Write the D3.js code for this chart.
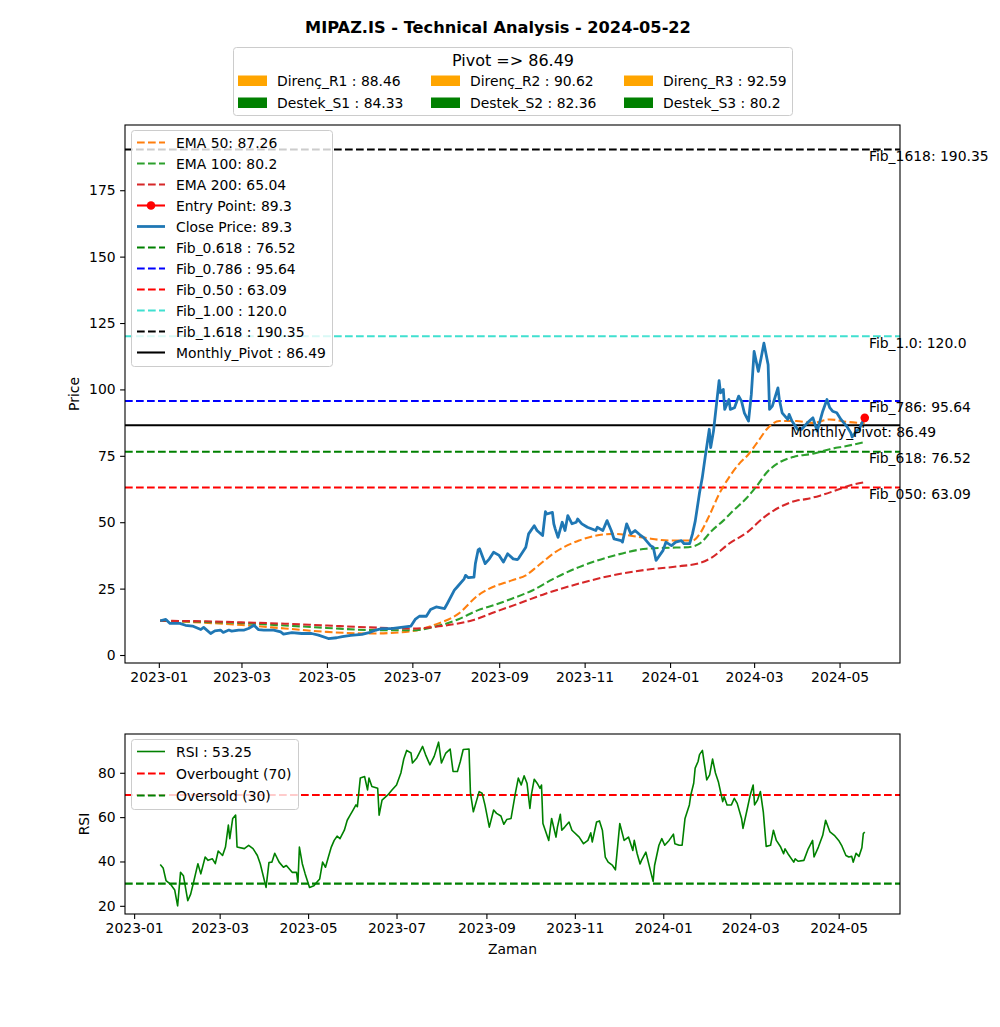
<!DOCTYPE html>
<html><head><meta charset="utf-8">
<script src="https://cdn.jsdelivr.net/npm/d3@7"></script>
<style>body{margin:0;background:#fff} text{font-family:"DejaVu Sans",sans-serif;fill:#000}</style>
</head><body><svg id="c" width="1000" height="1027"></svg>
<script>
// ---------------- DATA ----------------
const chartTitle = "MIPAZ.IS - Technical Analysis - 2024-05-22";
const pivotTitle = "Pivot => 86.49";
const pivotNames = ["Direnç_R1", "Direnç_R2", "Direnç_R3", "Destek_S1", "Destek_S2", "Destek_S3"];
const pivotValues = [88.46, 90.62, 92.59, 84.33, 82.36, 80.2];
const pivotColors = ["orange", "orange", "orange", "green", "green", "green"];

const closePrice = [
["2023-01-02",12.9],["2023-01-06",13.4],["2023-01-09",11.9],["2023-01-16",11.9],["2023-01-20",11.2],["2023-01-25",10.9],["2023-01-31",9.6],
["2023-02-02",10.4],["2023-02-07",8.1],["2023-02-10",9.1],["2023-02-14",9.4],["2023-02-16",8.5],["2023-02-20",9.4],["2023-02-22",9.0],["2023-02-27",9.4],
["2023-03-03",9.4],["2023-03-06",10.0],["2023-03-10",11.2],["2023-03-13",9.6],["2023-03-17",9.4],["2023-03-24",9.4],["2023-03-29",8.7],["2023-03-31",7.9],
["2023-04-06",8.4],["2023-04-13",8.1],["2023-04-20",8.1],["2023-04-25",7.5],["2023-05-02",6.2],["2023-05-08",6.5],["2023-05-12",6.9],["2023-05-18",7.4],
["2023-05-26",7.8],["2023-05-31",8.4],["2023-06-05",9.4],["2023-06-09",9.9],["2023-06-16",9.9],["2023-06-23",10.4],["2023-06-30",10.9],
["2023-07-03",13.4],["2023-07-06",14.6],["2023-07-11",14.6],["2023-07-14",17.1],["2023-07-18",18.1],["2023-07-24",17.5],["2023-07-26",19.4],["2023-07-31",24.4],
["2023-08-02",25.6],["2023-08-07",28.7],["2023-08-08",30.0],["2023-08-10",29.1],["2023-08-14",29.3],["2023-08-15",34.4],["2023-08-17",39.6],["2023-08-18",40.0],
["2023-08-22",34.4],["2023-08-25",36.2],["2023-08-28",38.7],["2023-09-01",37.5],["2023-09-04",35.0],["2023-09-07",38.1],["2023-09-11",36.2],["2023-09-14",35.9],
["2023-09-15",36.5],["2023-09-20",40.6],["2023-09-22",45.6],["2023-09-26",48.7],["2023-09-28",46.9],["2023-10-02",45.0],["2023-10-04",54.0],["2023-10-05",53.1],
["2023-10-09",53.7],["2023-10-10",49.4],["2023-10-11",47.5],["2023-10-13",44.3],["2023-10-16",50.0],["2023-10-18",46.9],["2023-10-20",52.5],["2023-10-23",49.4],
["2023-10-26",50.0],["2023-10-27",51.2],["2023-10-30",49.4],["2023-11-03",48.1],["2023-11-09",46.9],["2023-11-10",48.1],["2023-11-14",46.9],["2023-11-17",50.6],
["2023-11-20",46.9],["2023-11-22",43.7],["2023-11-27",43.1],["2023-11-28",42.5],["2023-12-01",49.4],["2023-12-04",45.6],["2023-12-07",46.9],["2023-12-11",45.0],
["2023-12-13",44.3],["2023-12-18",41.2],["2023-12-20",40.6],["2023-12-22",35.6],["2023-12-27",39.4],["2023-12-29",42.5],["2024-01-02",41.2],["2024-01-05",42.5],
["2024-01-09",43.1],["2024-01-11",41.9],["2024-01-15",41.9],["2024-01-17",45.6],["2024-01-19",50.5],["2024-01-22",61.0],["2024-01-24",66.8],["2024-01-26",74.3],
["2024-01-29",85.0],["2024-01-30",78.1],["2024-02-01",84.3],["2024-02-05",103.3],["2024-02-06",98.7],["2024-02-08",100.0],["2024-02-09",92.5],["2024-02-12",96.2],
["2024-02-13",92.5],["2024-02-16",93.1],["2024-02-19",97.5],["2024-02-21",95.6],["2024-02-23",91.2],["2024-02-26",88.1],["2024-02-28",98.1],["2024-03-01",114.3],
["2024-03-04",106.8],["2024-03-06",111.8],["2024-03-08",117.4],["2024-03-11",109.3],["2024-03-12",92.5],["2024-03-14",93.7],["2024-03-18",100.6],["2024-03-19",96.2],
["2024-03-21",91.2],["2024-03-25",88.7],["2024-03-26",90.6],["2024-03-28",88.1],["2024-04-01",85.0],["2024-04-04",85.0],["2024-04-08",87.4],["2024-04-12",89.3],
["2024-04-15",84.3],["2024-04-17",88.1],["2024-04-19",91.8],["2024-04-22",96.2],["2024-04-24",93.1],["2024-04-26",91.8],["2024-04-29",91.2],["2024-05-02",88.7],
["2024-05-06",86.2],["2024-05-09",83.7],["2024-05-10",82.1],["2024-05-13",84.3],["2024-05-15",85.0],["2024-05-17",87.4],["2024-05-19",89.3]
];

const ema50 = [
["2023-01-02",12.9],["2023-02-01",12.2],["2023-03-01",11.3],["2023-04-01",10.0],["2023-05-01",8.7],["2023-06-01",8.1],["2023-07-01",9.0],
["2023-07-16",11.2],["2023-08-03",15.6],["2023-08-17",22.5],["2023-08-25",25.0],["2023-09-10",28.1],["2023-09-20",30.0],["2023-09-29",33.7],
["2023-10-11",38.7],["2023-10-28",43.1],["2023-11-21",45.6],["2023-12-12",44.3],["2023-12-31",43.1],["2024-01-17",43.1],["2024-01-22",45.5],
["2024-01-29",52.5],["2024-02-05",60.6],["2024-02-12",66.8],["2024-02-19",71.8],["2024-02-26",75.6],["2024-03-04",80.6],["2024-03-11",85.6],
["2024-03-19",88.1],["2024-03-31",88.1],["2024-04-12",87.4],["2024-04-24",88.7],["2024-05-06",87.8],["2024-05-19",87.26]
];
const ema100 = [
["2023-01-02",12.9],["2023-02-01",12.5],["2023-03-01",12.0],["2023-04-01",11.1],["2023-05-01",10.2],["2023-06-01",9.4],["2023-07-01",9.3],
["2023-07-16",10.5],["2023-08-03",13.5],["2023-08-17",16.9],["2023-08-29",18.9],["2023-09-10",21.2],["2023-09-25",24.4],["2023-10-09",28.5],
["2023-10-28",33.1],["2023-11-21",37.3],["2023-12-15",40.0],["2023-12-31",40.4],["2024-01-14",40.6],["2024-01-22",41.9],["2024-01-31",46.9],
["2024-02-08",50.6],["2024-02-15",54.3],["2024-02-25",59.3],["2024-03-03",63.7],["2024-03-10",68.7],["2024-03-19",72.5],["2024-03-29",74.6],
["2024-04-12",75.8],["2024-04-24",77.5],["2024-05-06",78.7],["2024-05-19",80.2]
];
const ema200 = [
["2023-01-02",12.9],["2023-02-01",12.7],["2023-03-01",12.3],["2023-04-01",11.8],["2023-05-01",11.1],["2023-06-01",10.4],["2023-07-01",10.0],
["2023-07-20",10.8],["2023-08-13",13.1],["2023-08-29",16.2],["2023-09-15",19.4],["2023-10-04",23.1],["2023-10-28",26.9],["2023-11-21",30.0],
["2023-12-15",32.1],["2024-01-07",33.4],["2024-01-22",34.6],["2024-01-31",36.8],["2024-02-12",41.9],["2024-02-25",46.2],["2024-03-08",51.8],
["2024-03-19",55.6],["2024-03-31",58.1],["2024-04-07",58.7],["2024-04-17",60.0],["2024-04-29",62.1],["2024-05-10",64.1],["2024-05-19",65.04]
];

const entryPoint = ["2024-05-19", 89.3];

const fibNames = ["Fib_0.618", "Fib_0.786", "Fib_0.50", "Fib_1.00", "Fib_1.618"];
const fibShortNames = ["Fib_618", "Fib_786", "Fib_050", "Fib_1.0", "Fib_1618"];
const fibValues = [76.52, 95.64, 63.09, 120.0, 190.35];
const fibValueText = ["76.52", "95.64", "63.09", "120.0", "190.35"];
const fibColors = ["green", "blue", "red", "turquoise", "black"];
const monthlyPivot = 86.49;
const fibLabelDate = "2024-05-22";
const pivotLabelDate = "2024-03-27";

const rsi = [
["2023-01-19",38.6],["2023-01-21",37.1],["2023-01-23",31.4],["2023-01-26",29.8],["2023-01-29",27.1],["2023-01-31",20.0],["2023-02-02",35.1],["2023-02-04",33.6],
["2023-02-07",22.3],["2023-02-09",25.3],["2023-02-11",30.6],["2023-02-14",39.0],["2023-02-16",34.4],["2023-02-19",42.0],["2023-02-21",40.5],["2023-02-24",41.2],
["2023-02-26",39.0],["2023-02-28",44.7],["2023-03-03",42.7],["2023-03-05",46.5],["2023-03-07",56.4],["2023-03-08",50.3],["2023-03-10",59.4],["2023-03-12",60.9],
["2023-03-13",46.5],["2023-03-18",45.8],["2023-03-21",47.3],["2023-03-24",45.8],["2023-03-27",42.7],["2023-03-29",39.0],["2023-04-02",28.3],["2023-04-04",39.5],
["2023-04-06",39.7],["2023-04-08",43.7],["2023-04-11",39.7],["2023-04-14",37.4],["2023-04-16",38.2],["2023-04-20",35.1],["2023-04-23",35.1],["2023-04-24",30.6],
["2023-04-25",46.5],["2023-04-27",39.0],["2023-04-29",34.4],["2023-05-02",28.3],["2023-05-05",29.1],["2023-05-07",30.6],["2023-05-09",32.1],["2023-05-11",39.7],
["2023-05-13",37.4],["2023-05-15",42.0],["2023-05-17",46.5],["2023-05-19",49.5],["2023-05-21",51.4],["2023-05-23",50.3],["2023-05-26",54.1],["2023-05-28",58.6],
["2023-05-30",60.9],["2023-06-01",63.2],["2023-06-03",65.5],["2023-06-04",64.7],["2023-06-06",77.6],["2023-06-09",78.3],["2023-06-11",72.3],["2023-06-12",77.6],
["2023-06-14",73.8],["2023-06-18",73.0],["2023-06-19",60.9],["2023-06-21",67.7],["2023-06-25",70.0],["2023-06-28",72.3],["2023-07-01",74.5],["2023-07-04",79.9],
["2023-07-06",86.2],["2023-07-08",90.1],["2023-07-11",88.9],["2023-07-12",84.4],["2023-07-15",86.7],["2023-07-19",91.9],["2023-07-21",88.2],["2023-07-24",83.6],
["2023-07-27",87.4],["2023-07-30",93.8],["2023-08-01",84.4],["2023-08-04",88.9],["2023-08-07",90.7],["2023-08-09",80.6],["2023-08-12",80.6],["2023-08-14",85.1],
["2023-08-16",90.5],["2023-08-20",90.7],["2023-08-21",70.8],["2023-08-23",62.4],["2023-08-27",71.5],["2023-08-29",70.8],["2023-08-31",65.5],["2023-09-03",55.5],
["2023-09-06",63.2],["2023-09-08",61.7],["2023-09-11",60.5],["2023-09-13",56.8],["2023-09-15",58.9],["2023-09-18",59.4],["2023-09-21",70.8],["2023-09-23",77.6],
["2023-09-25",74.5],["2023-09-27",78.6],["2023-09-29",75.3],["2023-10-01",63.9],["2023-10-02",70.0],["2023-10-04",77.1],["2023-10-06",75.3],["2023-10-08",73.0],
["2023-10-09",74.5],["2023-10-10",57.1],["2023-10-14",49.5],["2023-10-16",59.4],["2023-10-19",51.0],["2023-10-20",55.5],["2023-10-22",61.3],["2023-10-23",54.1],
["2023-10-25",55.5],["2023-10-28",57.8],["2023-10-30",54.1],["2023-11-04",51.0],["2023-11-07",48.0],["2023-11-10",49.5],["2023-11-12",52.9],["2023-11-13",48.8],
["2023-11-16",57.8],["2023-11-18",58.3],["2023-11-20",54.1],["2023-11-22",42.0],["2023-11-24",39.7],["2023-11-27",38.2],["2023-11-29",36.2],["2023-12-02",57.1],
["2023-12-05",49.5],["2023-12-08",51.0],["2023-12-11",45.0],["2023-12-12",49.5],["2023-12-14",43.5],["2023-12-16",38.9],["2023-12-17",40.5],["2023-12-20",44.2],
["2023-12-22",38.9],["2023-12-25",31.0],["2023-12-26",38.2],["2023-12-29",47.3],["2023-12-31",50.3],["2024-01-02",47.3],["2024-01-05",49.5],["2024-01-08",52.3],
["2024-01-09",48.0],["2024-01-12",47.3],["2024-01-14",47.3],["2024-01-16",59.4],["2024-01-19",65.5],["2024-01-20",70.0],["2024-01-22",75.3],["2024-01-23",82.1],
["2024-01-25",85.1],["2024-01-26",88.2],["2024-01-28",90.1],["2024-01-31",76.8],["2024-02-02",79.1],["2024-02-04",86.2],["2024-02-06",79.9],["2024-02-08",76.0],
["2024-02-11",67.0],["2024-02-12",69.2],["2024-02-14",65.5],["2024-02-17",65.5],["2024-02-19",68.5],["2024-02-21",66.2],["2024-02-24",59.4],["2024-02-25",54.9],
["2024-02-28",63.9],["2024-03-01",70.0],["2024-03-03",74.5],["2024-03-04",65.5],["2024-03-06",67.7],["2024-03-08",71.5],["2024-03-10",62.4],["2024-03-12",46.8],
["2024-03-15",47.3],["2024-03-17",54.1],["2024-03-19",49.5],["2024-03-22",46.5],["2024-03-24",43.5],["2024-03-25",45.7],["2024-03-27",43.5],["2024-03-31",39.7],
["2024-04-01",41.2],["2024-04-03",40.1],["2024-04-07",40.5],["2024-04-10",45.7],["2024-04-13",49.5],["2024-04-14",42.0],["2024-04-17",46.5],["2024-04-20",51.8],
["2024-04-22",58.6],["2024-04-25",53.3],["2024-04-28",51.8],["2024-05-01",49.5],["2024-05-03",47.3],["2024-05-06",42.7],["2024-05-08",42.0],["2024-05-10",42.3],
["2024-05-11",39.7],["2024-05-13",43.7],["2024-05-15",42.3],["2024-05-17",46.2],["2024-05-18",52.6],["2024-05-19",53.25]
];
const rsiLast = "53.25";
const overbought = 70, oversold = 30;
const priceTicks = [0, 25, 50, 75, 100, 125, 150, 175];
const rsiTicks = [20, 40, 60, 80];

// ---------------- DRAW ----------------
const svg = d3.select("#c");
svg.append("rect").attr("width", 1000).attr("height", 1027).attr("fill", "#fff");
const parse = d3.utcParse("%Y-%m-%d");
const FS = 13.9;
const DASH = "7.7,3.3";
const mainBox = {l:125, r:900, t:125, b:663};
const rsiBox = {l:125, r:900, t:734, b:914};

function pad(ext, f) { const d = (ext[1]-ext[0])*f; return [ext[0]-d, ext[1]+d]; }
function padDates(ext) { const d = (ext[1]-ext[0])*0.05; return [new Date(+ext[0]-d), new Date(+ext[1]+d)]; }

const closeD = closePrice.map(d => ({date: parse(d[0]), v: d[1]}));
const toD = arr => arr.map(d => ({date: parse(d[0]), v: d[1]}));
const e50 = toD(ema50), e100 = toD(ema100), e200 = toD(ema200), rsiD = toD(rsi);

const x = d3.scaleUtc().domain(padDates(d3.extent(closeD, d => d.date))).range([mainBox.l, mainBox.r]);
const allVals = closeD.map(d=>d.v).concat(e50.map(d=>d.v), e100.map(d=>d.v), e200.map(d=>d.v), fibValues, [monthlyPivot]);
const y = d3.scaleLinear().domain(pad(d3.extent(allVals), 0.05)).range([mainBox.b, mainBox.t]);

const xr = d3.scaleUtc().domain(padDates(d3.extent(rsiD, d => d.date))).range([rsiBox.l, rsiBox.r]);
const yr = d3.scaleLinear().domain(pad(d3.extent(rsiD.map(d=>d.v).concat([overbought, oversold])), 0.05)).range([rsiBox.b, rsiBox.t]);

// title
svg.append("text").attr("x", 498).attr("y", 33).attr("text-anchor", "middle")
  .style("font-size", "16.2px").style("font-weight", "bold").text(chartTitle);

// top pivot legend
const tl = svg.append("g");
tl.append("rect").attr("x", 233.5).attr("y", 47.5).attr("width", 559).attr("height", 68).attr("rx", 3)
  .attr("fill", "#fff").attr("fill-opacity", 0.8).attr("stroke", "#cccccc");
tl.append("text").attr("x", 513).attr("y", 66).attr("text-anchor", "middle").style("font-size", "16px").text(pivotTitle);
const colX = [238, 431, 624];
const rowY = [81, 103];
pivotNames.forEach((n, i) => {
  const c = i % 3, r = Math.floor(i / 3);
  tl.append("rect").attr("x", colX[c]).attr("y", rowY[r]-5.5).attr("width", 29).attr("height", 10.5).attr("fill", pivotColors[i]);
  tl.append("text").attr("x", colX[c]+39).attr("y", rowY[r]+5).style("font-size", FS+"px").text(`${n} : ${pivotValues[i]}`);
});

// axes frames & clip
function clip(id, b) {
  svg.append("clipPath").attr("id", id).append("rect").attr("x", b.l).attr("y", b.t).attr("width", b.r-b.l).attr("height", b.b-b.t);
}
clip("cm", mainBox); clip("cr", rsiBox);

const gm = svg.append("g").attr("clip-path", "url(#cm)");
const line = d3.line().x(d => x(d.date)).y(d => y(d.v));

// fib horizontal lines
fibValues.forEach((v, i) => {
  gm.append("line").attr("x1", mainBox.l).attr("x2", mainBox.r).attr("y1", y(v)).attr("y2", y(v))
    .attr("stroke", fibColors[i]).attr("stroke-width", 2.08).attr("stroke-dasharray", DASH);
});
gm.append("line").attr("x1", mainBox.l).attr("x2", mainBox.r).attr("y1", y(monthlyPivot)).attr("y2", y(monthlyPivot))
  .attr("stroke", "black").attr("stroke-width", 2.08);

// EMAs
[[e50, "#ff7f0e"], [e100, "#2ca02c"], [e200, "#d62728"]].forEach(([d, c]) => {
  gm.append("path").datum(d).attr("d", line.curve(d3.curveMonotoneX)).attr("fill", "none")
    .attr("stroke", c).attr("stroke-width", 2.08).attr("stroke-dasharray", DASH);
});
line.curve(d3.curveLinear);
gm.append("path").datum(closeD).attr("d", line).attr("fill", "none").attr("stroke", "#1f77b4")
  .attr("stroke-width", 2.78).attr("stroke-linejoin", "round");
gm.append("circle").attr("cx", x(parse(entryPoint[0]))).attr("cy", y(entryPoint[1])).attr("r", 4.3).attr("fill", "red");

// right-side labels
const lab = svg.append("g");
fibValues.forEach((v, i) => {
  lab.append("text").attr("x", x(parse(fibLabelDate))).attr("y", y(v)+11.5).style("font-size", FS+"px")
    .text(`${fibShortNames[i]}: ${fibValueText[i]}`);
});
lab.append("text").attr("x", x(parse(pivotLabelDate))).attr("y", y(monthlyPivot)+11.5).style("font-size", FS+"px")
  .text(`Monthly_Pivot: ${monthlyPivot}`);

// RSI
const gr = svg.append("g").attr("clip-path", "url(#cr)");
gr.append("line").attr("x1", rsiBox.l).attr("x2", rsiBox.r).attr("y1", yr(overbought)).attr("y2", yr(overbought))
  .attr("stroke", "red").attr("stroke-width", 2.08).attr("stroke-dasharray", DASH);
gr.append("line").attr("x1", rsiBox.l).attr("x2", rsiBox.r).attr("y1", yr(oversold)).attr("y2", yr(oversold))
  .attr("stroke", "green").attr("stroke-width", 2.08).attr("stroke-dasharray", DASH);
gr.append("path").datum(rsiD).attr("d", d3.line().x(d => xr(d.date)).y(d => yr(d.v)))
  .attr("fill", "none").attr("stroke", "green").attr("stroke-width", 1.6).attr("stroke-linejoin", "round");

// axes
function drawAxes(b, xs, ys, yt) {
  const gx = svg.append("g").attr("transform", `translate(0,${b.b})`)
    .call(d3.axisBottom(xs).ticks(d3.utcMonth.every(2)).tickFormat(d3.utcFormat("%Y-%m")).tickSizeOuter(0).tickSize(4.9).tickPadding(4.5));
  const gy = svg.append("g").attr("transform", `translate(${b.l},0)`)
    .call(d3.axisLeft(ys).tickValues(yt).tickFormat(d3.format("d")).tickSizeOuter(0).tickSize(4.9).tickPadding(4.5));
  [gx, gy].forEach(g => {
    g.select(".domain").remove();
    g.selectAll(".tick line").attr("stroke", "#000").attr("stroke-width", 1.1);
    g.selectAll(".tick text").style("font-size", FS+"px").style("font-family", '"DejaVu Sans",sans-serif').attr("fill", "#000");
  });
  svg.append("rect").attr("x", b.l).attr("y", b.t).attr("width", b.r-b.l).attr("height", b.b-b.t)
    .attr("fill", "none").attr("stroke", "#000").attr("stroke-width", 1.1);
}
drawAxes(mainBox, x, y, priceTicks);
drawAxes(rsiBox, xr, yr, rsiTicks);

svg.append("text").attr("transform", `translate(79,${(mainBox.t+mainBox.b)/2}) rotate(-90)`).attr("text-anchor", "middle")
  .style("font-size", FS+"px").text("Price");
svg.append("text").attr("transform", `translate(89,${(rsiBox.t+rsiBox.b)/2}) rotate(-90)`).attr("text-anchor", "middle")
  .style("font-size", FS+"px").text("RSI");
svg.append("text").attr("x", (rsiBox.l+rsiBox.r)/2).attr("y", 954).attr("text-anchor", "middle")
  .style("font-size", FS+"px").text("Zaman");

// legends
function legend(bx, by, w, h, rowH, items) {
  const g = svg.append("g");
  g.append("rect").attr("x", bx+0.5).attr("y", by+0.5).attr("width", w).attr("height", h).attr("rx", 3)
    .attr("fill", "#fff").attr("fill-opacity", 0.8).attr("stroke", "#cccccc");
  items.forEach((it, i) => {
    const cy = by + 12.5 + i*rowH;
    const ln = g.append("line").attr("x1", bx+6).attr("x2", bx+34).attr("y1", cy).attr("y2", cy)
      .attr("stroke", it.color).attr("stroke-width", it.w || 2.08);
    if (it.dash) ln.attr("stroke-dasharray", DASH);
    if (it.marker) g.append("circle").attr("cx", bx+20).attr("cy", cy).attr("r", 4.3).attr("fill", it.color);
    g.append("text").attr("x", bx+45).attr("y", cy+5).style("font-size", FS+"px").text(it.label);
  });
}
const mainItems = [
  {label: `EMA 50: ${ema50[ema50.length-1][1]}`, color: "#ff7f0e", dash: true},
  {label: `EMA 100: ${ema100[ema100.length-1][1]}`, color: "#2ca02c", dash: true},
  {label: `EMA 200: ${ema200[ema200.length-1][1]}`, color: "#d62728", dash: true},
  {label: `Entry Point: ${entryPoint[1]}`, color: "red", marker: true},
  {label: `Close Price: ${closePrice[closePrice.length-1][1]}`, color: "#1f77b4", w: 2.78},
].concat(fibNames.map((n, i) => ({label: `${n} : ${fibValueText[i]}`, color: fibColors[i], dash: true})))
 .concat([{label: `Monthly_Pivot : ${monthlyPivot}`, color: "black"}]);
legend(131, 130, 201, 236, 21, mainItems);
legend(131, 739, 167, 70, 22, [
  {label: `RSI : ${rsiLast}`, color: "green", w: 1.6},
  {label: `Overbought (${overbought})`, color: "red", dash: true},
  {label: `Oversold (${oversold})`, color: "green", dash: true}
]);
</script></body></html>
